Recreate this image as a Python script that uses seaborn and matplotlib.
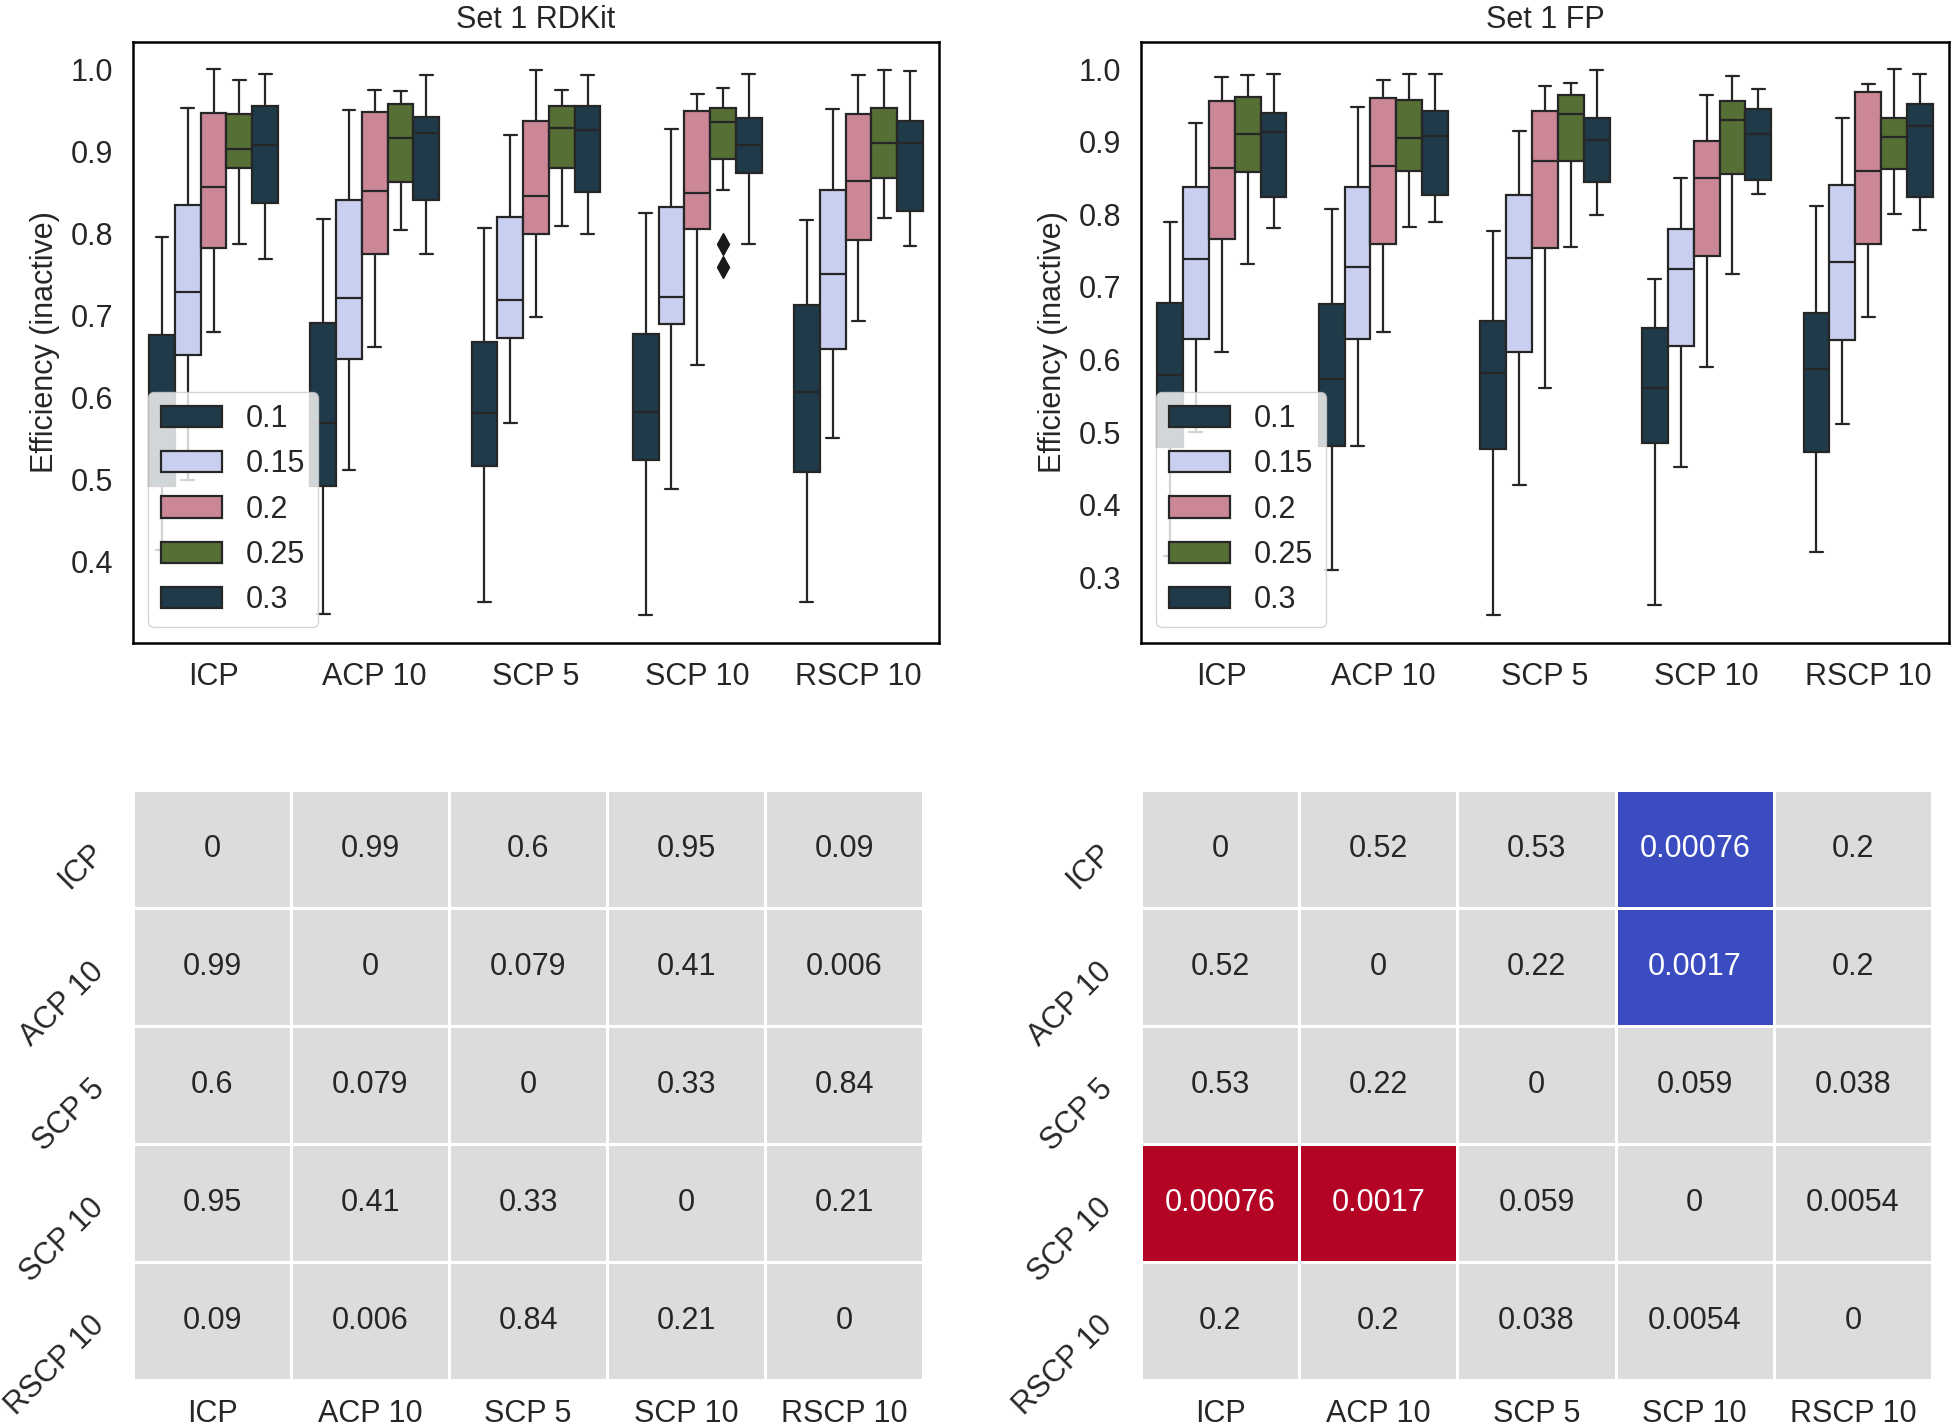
import numpy as np
import pandas as pd
import matplotlib
matplotlib.use("Agg")
import matplotlib.pyplot as plt
import seaborn as sns

# ---------------- data ----------------
methods = ["ICP", "ACP 10", "SCP 5", "SCP 10", "RSCP 10"]
cutoffs = ["0.1", "0.15", "0.2", "0.25", "0.3"]
box_colors = ["#1f3a48", "#c9cff0", "#cc8797", "#566f34", "#1f3a48"]

# five-number summaries, rows = cutoffs, columns = methods
rdkit_lo = [[0.415, 0.337, 0.351, 0.335, 0.351],
            [0.500, 0.512, 0.569, 0.489, 0.551],
            [0.680, 0.662, 0.698, 0.640, 0.693],
            [0.787, 0.804, 0.809, 0.853, 0.819],
            [0.769, 0.775, 0.799, 0.787, 0.785]]
rdkit_q1 = [[0.492, 0.493, 0.517, 0.524, 0.510],
            [0.652, 0.647, 0.673, 0.690, 0.659],
            [0.782, 0.775, 0.799, 0.805, 0.792],
            [0.880, 0.862, 0.879, 0.891, 0.867],
            [0.837, 0.840, 0.850, 0.873, 0.827]]
rdkit_med = [[0.580, 0.569, 0.581, 0.583, 0.607],
             [0.728, 0.721, 0.719, 0.722, 0.751],
             [0.856, 0.851, 0.846, 0.849, 0.864],
             [0.903, 0.916, 0.928, 0.936, 0.910],
             [0.907, 0.922, 0.926, 0.907, 0.910]]
rdkit_q3 = [[0.676, 0.691, 0.668, 0.677, 0.713],
            [0.834, 0.840, 0.820, 0.832, 0.853],
            [0.947, 0.948, 0.937, 0.949, 0.945],
            [0.945, 0.957, 0.955, 0.952, 0.953],
            [0.955, 0.941, 0.955, 0.940, 0.937]]
rdkit_hi = [[0.795, 0.818, 0.806, 0.825, 0.816],
            [0.952, 0.950, 0.920, 0.927, 0.951],
            [1.000, 0.975, 0.999, 0.969, 0.993],
            [0.987, 0.973, 0.975, 0.977, 0.999],
            [0.994, 0.993, 0.993, 0.994, 0.997]]
rdkit_fliers = {("0.25", "SCP 10"): [0.787, 0.759]}

fp_lo = [[0.330, 0.310, 0.248, 0.262, 0.335],
         [0.500, 0.481, 0.427, 0.452, 0.512],
         [0.610, 0.638, 0.561, 0.590, 0.658],
         [0.732, 0.782, 0.755, 0.718, 0.801],
         [0.781, 0.790, 0.799, 0.828, 0.778]]
fp_q1 = [[0.480, 0.481, 0.477, 0.485, 0.473],
         [0.629, 0.629, 0.610, 0.619, 0.627],
         [0.766, 0.759, 0.753, 0.743, 0.759],
         [0.858, 0.860, 0.873, 0.856, 0.863],
         [0.824, 0.826, 0.845, 0.847, 0.824]]
fp_med = [[0.579, 0.573, 0.582, 0.561, 0.587],
          [0.738, 0.728, 0.740, 0.725, 0.734],
          [0.864, 0.866, 0.873, 0.850, 0.860],
          [0.911, 0.905, 0.938, 0.930, 0.906],
          [0.913, 0.908, 0.902, 0.911, 0.922]]
fp_q3 = [[0.678, 0.676, 0.653, 0.644, 0.664],
         [0.838, 0.838, 0.826, 0.780, 0.841],
         [0.956, 0.960, 0.942, 0.901, 0.968],
         [0.962, 0.957, 0.964, 0.956, 0.932],
         [0.940, 0.942, 0.933, 0.945, 0.952]]
fp_hi = [[0.789, 0.808, 0.777, 0.711, 0.812],
         [0.926, 0.948, 0.915, 0.850, 0.933],
         [0.989, 0.985, 0.977, 0.964, 0.980],
         [0.992, 0.993, 0.981, 0.991, 1.000],
         [0.993, 0.993, 0.998, 0.973, 0.993]]
fp_fliers = {}

# pairwise p-values
rdkit_p = [[0, 0.99, 0.6, 0.95, 0.09],
           [0.99, 0, 0.079, 0.41, 0.006],
           [0.6, 0.079, 0, 0.33, 0.84],
           [0.95, 0.41, 0.33, 0, 0.21],
           [0.09, 0.006, 0.84, 0.21, 0]]
fp_p = [[0, 0.52, 0.53, 0.00076, 0.2],
        [0.52, 0, 0.22, 0.0017, 0.2],
        [0.53, 0.22, 0, 0.059, 0.038],
        [0.00076, 0.0017, 0.059, 0, 0.0054],
        [0.2, 0.2, 0.038, 0.0054, 0]]
alpha_sig = 0.005


def summary_points(lo, q1, med, q3, hi, fliers):
    """Points whose quartiles / whiskers reproduce the given summary."""
    if not fliers:
        return [lo, q1, med, q3, hi]
    # two low outliers: 13 points, quartiles at positions 3, 6, 9
    return sorted(fliers) + [lo, q1, q1, med, med, med, q3, q3, q3, q3, hi]


def build_frame(lo, q1, med, q3, hi, fliers):
    rows = []
    for i, c in enumerate(cutoffs):
        for j, m in enumerate(methods):
            pts = summary_points(lo[i][j], q1[i][j], med[i][j], q3[i][j],
                                 hi[i][j], fliers.get((c, m), []))
            for v in pts:
                rows.append({"method": m, "cutoff": c, "value": v})
    return pd.DataFrame(rows)


# ---------------- style ----------------
sns.set_theme(style="white")
plt.rcParams["font.family"] = ["Liberation Sans", "DejaVu Sans"]
plt.rcParams["text.color"] = "#262626"
FS = 22

fig = plt.figure(figsize=(19.53, 14.28), dpi=100)
W, H = 1953.0, 1428.0


def box_panel(rect, df, title):
    ax = fig.add_axes(rect)
    sns.boxplot(data=df, x="method", y="value", hue="cutoff",
                order=methods, hue_order=cutoffs, palette=box_colors,
                saturation=1, width=0.8, linewidth=1.6, linecolor="#262626",
                flierprops=dict(marker="d", markerfacecolor="#1a1a1a",
                                markeredgecolor="#1a1a1a", markersize=11),
                ax=ax)
    ax.set_xlabel("")
    ax.set_ylabel("Efficiency (inactive)", fontsize=FS, labelpad=8)
    ax.set_title(title, fontsize=FS, pad=10)
    ax.tick_params(labelsize=FS, length=0, pad=14)
    for s in ax.spines.values():
        s.set_visible(True)
        s.set_color("black")
        s.set_linewidth(1.8)
    sns.move_legend(ax, "lower left", title=None, fontsize=FS, frameon=True)
    return ax


def heat_panel(rect, p):
    ax = fig.add_axes(rect)
    pa = np.array(p, dtype=float)
    n = len(methods)
    sig = np.zeros_like(pa)
    for i in range(n):
        for j in range(n):
            if i != j and pa[i, j] < alpha_sig:
                sig[i, j] = 1 if i > j else -1
    sns.heatmap(sig, cmap="coolwarm", vmin=-1, vmax=1, annot=pa, fmt=".2g",
                annot_kws={"size": FS}, linewidths=1.0, linecolor="white",
                cbar=False, xticklabels=methods, yticklabels=methods, ax=ax)
    ax.tick_params(axis="x", labelsize=FS, length=0, pad=14)
    ax.tick_params(axis="y", labelsize=FS, length=0, pad=24)
    ax.set_yticklabels(methods, rotation=45, ha="right", va="center",
                       rotation_mode="anchor")
    ax.set_xticklabels(methods, rotation=0)
    return ax


def frac(x0, y0, x1, y1):
    return [x0 / W, 1 - y1 / H, (x1 - x0) / W, (y1 - y0) / H]


box_panel(frac(133, 41.7, 939, 642.7),
          build_frame(rdkit_lo, rdkit_q1, rdkit_med, rdkit_q3, rdkit_hi, rdkit_fliers),
          "Set 1 RDKit")
box_panel(frac(1141, 41.7, 1949, 642.7),
          build_frame(fp_lo, fp_q1, fp_med, fp_q3, fp_hi, fp_fliers),
          "Set 1 FP")
heat_panel(frac(133, 790, 923, 1380), rdkit_p)
heat_panel(frac(1141, 790, 1932, 1380), fp_p)

fig.savefig("out.png", dpi=100)
